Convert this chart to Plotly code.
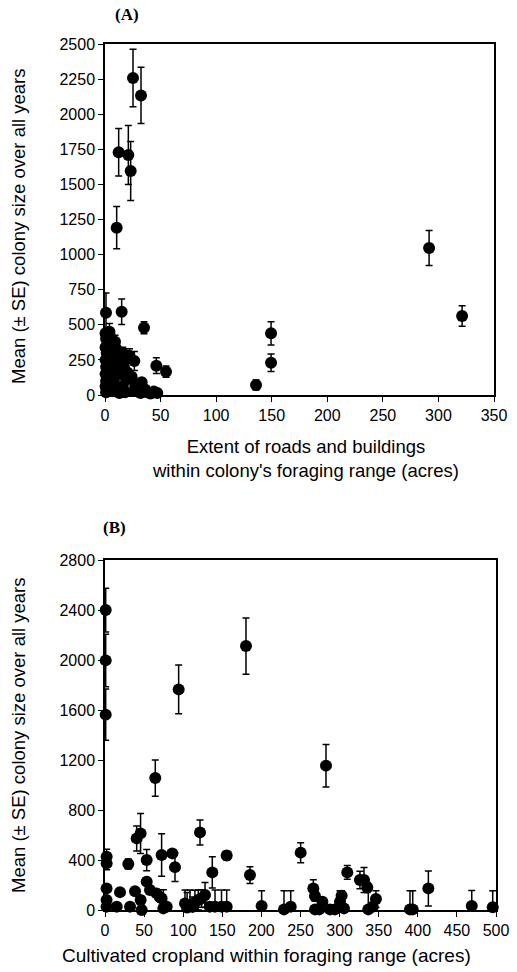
import plotly.graph_objects as go

W, H = 517, 972

# ---------------- Panel A data ----------------
a_x = [25.2, 32.4, 12.3, 21.0, 23.1, 10.5, 0.9, 15.0, 35.1, 46.2, 54.9, 26.4,
       291.6, 321.3, 149.4, 149.4, 135.9,
       0.5, 1, 0.5, 1.5, 0.5, 1, 0.5, 1, 0.5, 1,
       4, 5, 3.5, 6, 4, 5, 3.5, 6, 4, 5,
       9, 10, 8, 11, 9, 12, 8, 10, 13,
       16, 18, 17, 20, 19, 16, 18,
       22, 24, 27, 26, 30, 33, 32,
       38, 41, 44, 47, 36]
a_y = [2258, 2134, 1729, 1709, 1595, 1192, 586, 593, 479, 209, 166, 242,
       1047, 563, 439, 230, 71,
       440, 400, 340, 300, 250, 200, 150, 100, 60, 20,
       450, 410, 360, 320, 270, 230, 180, 130, 80, 30,
       380, 330, 280, 240, 190, 150, 100, 50, 15,
       300, 250, 200, 160, 110, 60, 20,
       280, 130, 80, 30, 60, 90, 15,
       20, 10, 25, 15, 40]
a_err = [205, 200, 170, 210, 210, 150, 140, 90, 43, 56, 40, 67,
         125, 73, 83, 62, 35,
         40, 50, 30, 30, 25, 20, 20, 15, 10, 5,
         60, 45, 35, 30, 25, 20, 20, 15, 10, 5,
         45, 60, 30, 25, 20, 15, 10, 8, 5,
         40, 30, 25, 20, 15, 10, 5,
         50, 15, 12, 5, 10, 12, 5,
         5, 5, 5, 5, 6]

# ---------------- Panel B data ----------------
b_x = [0.9, 0.9, 0.9, 94.2, 180.3, 282.6, 64.3,
       2.1, 2.1, 29.8, 40.5, 45.5, 53.3, 72.4, 86.1, 89.5, 121.5, 137.2, 155.6,
       185.4, 250.2, 309.8, 326, 331.2, 335.4, 346.5, 413.5, 266.4, 268.5, 278,
       300.5, 302.6, 469, 495.8, 390, 393.5, 228.9, 237.5, 268.6, 274, 287.7,
       294, 305.6, 336.7, 342.3,
       2, 2, 2, 15, 19.2, 32, 38.4, 45.6, 46.9, 53.3, 57.5, 66, 70.3, 72.4,
       74.6, 78.9, 102.3, 108.7, 115, 119.3, 123.6, 127.9, 105, 112, 134,
       140.7, 149, 155.6, 200.3]
b_y = [2400, 1997, 1563, 1765, 2112, 1155, 1056,
       427, 373, 368, 573, 613, 400, 440, 453, 343, 621, 301, 436,
       280, 459, 301, 240, 240, 181, 88, 173, 173, 112, 67,
       67, 115, 32, 22, 5, 5, 5, 27, 5, 5, 5,
       5, 13, 5, 27,
       173, 80, 27, 27, 143, 27, 150, 80, 0, 227, 160, 133, 101, 93,
       13, 27, 53, 40, 59, 80, 93, 120, 20, 25, 27,
       27, 27, 27, 32]
b_err = [175, 210, 205, 195, 225, 170, 145,
         60, 50, 40, 100, 160, 85, 170, 30, 115, 100, 125, 35,
         67, 80, 55, 70, 100, 40, 67, 140, 70, 40, 30,
         88, 40, 125, 133, 150, 150, 150, 128, 20, 20, 10,
         10, 10, 150, 20,
         30, 20, 10, 10, 20, 10, 20, 15, 5, 25, 20, 20, 15, 15,
         150, 10, 107, 120, 100, 80, 70, 100, 120, 80, 10,
         133, 133, 133, 123]

a_xticks = [0, 50, 100, 150, 200, 250, 300, 350]
a_yticks = [0, 250, 500, 750, 1000, 1250, 1500, 1750, 2000, 2250, 2500]
b_xticks = [0, 50, 100, 150, 200, 250, 300, 350, 400, 450, 500]
b_yticks = [0, 400, 800, 1200, 1600, 2000, 2400, 2800]

FONT = "Liberation Sans, Arial, Helvetica, sans-serif"


def px_x(p):
    return p / W


def px_y(p):
    return 1 - p / H


def trace(xs, ys, errs, xa, ya):
    return go.Scatter(
        x=xs, y=ys, mode="markers", xaxis=xa, yaxis=ya,
        marker=dict(color="black", size=12, line=dict(width=0)),
        error_y=dict(type="data", symmetric=False, array=errs,
                     arrayminus=[min(e, v) for e, v in zip(errs, ys)],
                     color="black", thickness=1.5, width=3.5),
        cliponaxis=False, showlegend=False, hoverinfo="x+y",
    )


fig = go.Figure()
fig.add_trace(trace(a_x, a_y, a_err, "x", "y"))
fig.add_trace(trace(b_x, b_y, b_err, "x2", "y2"))

axis_common = dict(showgrid=False, zeroline=False, showline=True, linecolor="black",
                   linewidth=1.5, ticks="outside", ticklen=5, tickwidth=1.2,
                   tickcolor="black", mirror=True, automargin=False,
                   tickfont=dict(family=FONT, size=16, color="black"))

fig.update_layout(
    width=W, height=H, margin=dict(l=0, r=0, t=0, b=0, pad=0, autoexpand=False),
    paper_bgcolor="white", plot_bgcolor="white",
    xaxis=dict(domain=[px_x(105), px_x(494)], range=[0, 350], tickvals=a_xticks,
               anchor="y", **axis_common),
    yaxis=dict(domain=[px_y(395), px_y(44)], range=[0, 2500], tickvals=a_yticks,
               anchor="x", **axis_common),
    xaxis2=dict(domain=[px_x(105), px_x(496)], range=[0, 500], tickvals=b_xticks,
                anchor="y2", **axis_common),
    yaxis2=dict(domain=[px_y(910), px_y(560)], range=[0, 2800], tickvals=b_yticks,
                anchor="x2", **axis_common),
)

font_a = dict(family=FONT, size=18.5, color="black")
font_b = dict(family=FONT, size=19, color="black")
title_font = dict(family="Liberation Serif, Times New Roman, serif", size=17, color="black")

annotations = [
    dict(text="<b>(A)</b>", x=px_x(127), y=px_y(15), font=title_font),
    dict(text="<b>(B)</b>", x=px_x(114), y=px_y(527), font=title_font),
    dict(text="Extent of roads and buildings<br>within colony's foraging range (acres)",
         x=px_x(305), y=px_y(458), font=font_a),
    dict(text="Cultivated cropland within foraging range (acres)",
         x=px_x(266), y=px_y(955), font=font_b),
    dict(text="Mean (± SE) colony size over all years", x=px_x(18), y=px_y(226),
         textangle=-90, font=font_a),
    dict(text="Mean (± SE) colony size over all years", x=px_x(18), y=px_y(735),
         textangle=-90, font=font_a),
]
for a in annotations:
    a.update(xref="paper", yref="paper", showarrow=False, xanchor="center", yanchor="middle")
fig.update_layout(annotations=annotations)

fig.write_html(
    "out.html",
    config={"displayModeBar": False},
    post_script=("document.body.style.margin='0';document.body.style.padding='0';"
                 "document.documentElement.style.overflow='hidden';"),
)
